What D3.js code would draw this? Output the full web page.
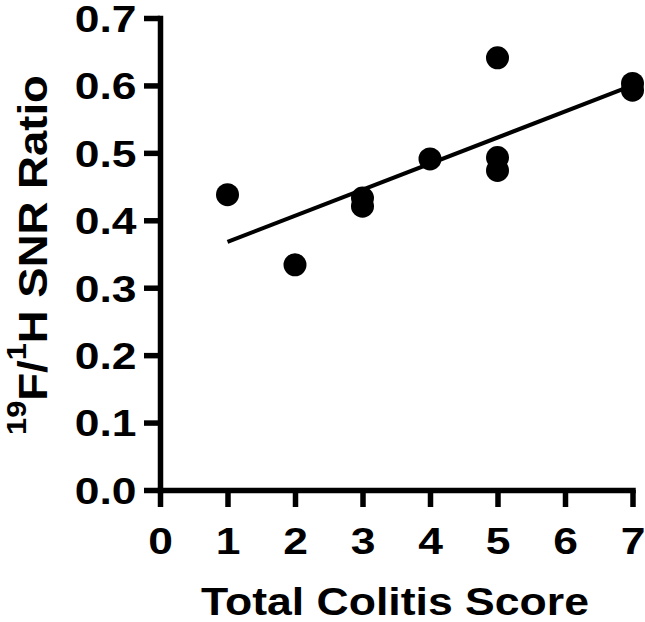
<!DOCTYPE html>
<html>
<head>
<meta charset="utf-8">
<script src="https://cdn.jsdelivr.net/npm/d3@7"></script>
<style>
  html, body { margin: 0; padding: 0; background: #fff; }
  svg { display: block; }
  text { font-family: "Liberation Sans", Arial, Helvetica, sans-serif; font-weight: bold; fill: #000; }
</style>
</head>
<body>
<svg id="chart" width="645" height="622"></svg>
<script>
// ---- data ----
const scoreX   = [1, 2, 3, 3, 4, 5, 5, 5, 7, 7];
const snrRatio = [0.438, 0.334, 0.433, 0.421, 0.491, 0.641, 0.493, 0.474, 0.603, 0.593];
const fitX = [1, 7];
const fitY = [0.368, 0.600];
const xTicks = [0, 1, 2, 3, 4, 5, 6, 7];
const yTicks = [0.0, 0.1, 0.2, 0.3, 0.4, 0.5, 0.6, 0.7];
const xTitle = "Total Colitis Score";

(function () {
// ---- layout ----
const svg = d3.select("#chart");
const pLeft = 160, pRight = 632.5, pTop = 18, pBottom = 490;
const stroke = 5.5;
const stretch = 1.2;

const x = d3.scaleLinear().domain([0, 7]).range([pLeft, pRight]);
const y = d3.scaleLinear().domain([0, 0.7]).range([pBottom, pTop]);

// y axis
const yAxis = svg.append("g").attr("transform", `translate(${pLeft},0)`)
  .call(d3.axisLeft(y).tickValues(yTicks).tickFormat(d3.format(".1f")).tickSize(16).tickSizeOuter(0));
yAxis.select(".domain").attr("stroke", "#000").attr("stroke-width", stroke).attr("stroke-linecap", "square");
yAxis.selectAll(".tick line").attr("stroke", "#000").attr("stroke-width", stroke);
yAxis.selectAll(".tick text")
  .attr("x", 0).attr("dy", "0.36em").attr("font-size", 37)
  .attr("text-anchor", "end")
  .attr("transform", `translate(-23.5,0) scale(${stretch},1)`);

// x axis
const xAxis = svg.append("g").attr("transform", `translate(0,${pBottom})`)
  .call(d3.axisBottom(x).tickValues(xTicks).tickFormat(d3.format("d")).tickSize(17).tickSizeOuter(0));
xAxis.select(".domain").attr("stroke", "#000").attr("stroke-width", stroke).attr("stroke-linecap", "square");
xAxis.selectAll(".tick line").attr("stroke", "#000").attr("stroke-width", stroke);
xAxis.selectAll(".tick text")
  .attr("y", 0).attr("dy", 0).attr("font-size", 37)
  .attr("text-anchor", "middle")
  .attr("transform", `translate(0,64) scale(${stretch},1)`);

// fit line
const line = d3.line().x(d => x(d[0])).y(d => y(d[1]));
svg.append("path")
  .datum(fitX.map((v, i) => [v, fitY[i]]))
  .attr("d", line)
  .attr("fill", "none").attr("stroke", "#000").attr("stroke-width", 4);

// points
svg.append("g").selectAll("circle")
  .data(scoreX.map((v, i) => [v, snrRatio[i]]))
  .join("circle")
  .attr("cx", d => x(d[0])).attr("cy", d => y(d[1])).attr("r", 11.5)
  .attr("fill", "#000");

// x title
const xt = svg.append("text")
  .attr("text-anchor", "middle").attr("font-size", 38)
  .text(xTitle);
const xtw = xt.node().getComputedTextLength();
xt.attr("transform", `translate(395,615) scale(${388 / xtw},1)`);

// y title with superscripts
const yt = svg.append("text").attr("text-anchor", "middle").attr("font-size", 40);
yt.append("tspan").attr("font-size", 27).attr("dy", -21).text("19");
yt.append("tspan").attr("dy", 21).text("F/");
yt.append("tspan").attr("font-size", 27).attr("dy", -21).text("1");
yt.append("tspan").attr("dy", 21).text("H SNR Ratio");
const ytw = yt.node().getComputedTextLength();
yt.attr("transform", `translate(46.5,255) rotate(-90) scale(${360 / ytw},1)`);
})();
</script>
</body>
</html>
